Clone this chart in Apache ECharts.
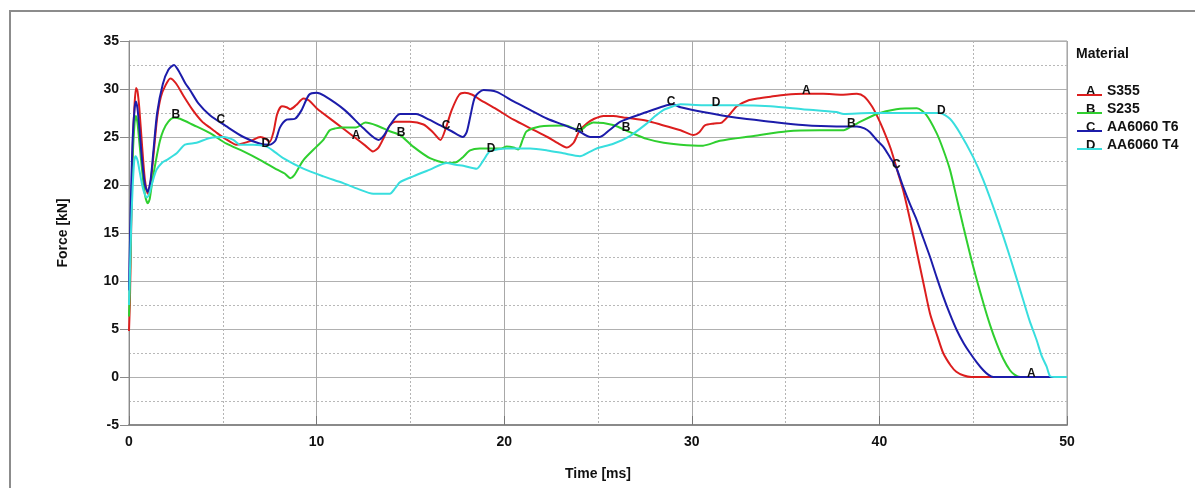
<!DOCTYPE html>
<html>
<head>
<meta charset="utf-8">
<script src="https://cdn.jsdelivr.net/npm/echarts@6/dist/echarts.min.js"></script>
<style>
  html, body { margin:0; padding:0; background:#fff; }
  #wrap { position:relative; width:1195px; height:488px; overflow:hidden; }
  #chart { position:absolute; left:0; top:0; width:1195px; height:488px; }
  #frame { position:absolute; left:9px; top:10px; width:1200px; height:500px;
           border-left:2px solid #8c8c8c; border-top:2px solid #8c8c8c; pointer-events:none; }
</style>
</head>
<body>
<div id="wrap"><div id="chart"></div><div id="frame"></div></div>
<script>
// ---- Data ----
const seriesNames = ['S355', 'S235', 'AA6060 T6', 'AA6060 T4'];
const seriesLetters = ['A', 'B', 'C', 'D'];
const seriesColors = ['#dc1e1e', '#2fcf2f', '#1c1caa', '#38dede'];

// A: S355
const timeA = [0,0.05,0.12,0.2,0.3,0.38,0.45,0.55,0.7,0.85,1.0,1.15,1.3,1.5,1.7,1.95,2.2,2.5,2.9,3.4,3.9,4.3,4.7,5.0,5.4,5.7,6.0,6.5,7.0,7.3,7.5,7.7,7.9,8.15,8.4,8.6,8.9,9.3,9.6,10.0,11.0,12.0,12.6,13.0,13.3,13.6,13.9,14.2,15.0,15.7,16.2,16.6,16.9,17.2,17.6,17.9,18.3,18.7,19.5,20.5,21.5,22.3,23.0,23.35,23.7,24.0,24.4,24.8,25.3,25.8,26.5,27.6,28.5,29.4,30.1,30.4,30.7,31.2,31.6,32.0,32.4,33.0,33.5,34.2,35.0,36.0,37.0,38.0,38.8,39.2,39.6,39.9,40.2,40.6,41.0,41.3,41.7,42.0,42.4,42.7,43.1,43.4,43.8,44.1,44.5,44.9,46,48,50];
const forceA = [4.8,8,16,24,28.5,30.1,29.8,28,24,20.5,19.1,20.2,23,27,29.2,30.4,31.1,30.6,29.3,27.8,26.6,26.0,25.4,25.0,24.5,24.2,24.3,24.6,25.0,24.8,24.5,25.5,27.4,28.2,28.1,27.9,28.3,29.0,28.8,28.0,26.5,25.0,24.1,23.5,23.9,25.0,26.2,26.6,26.6,26.3,25.5,24.7,26.0,27.8,29.4,29.6,29.4,28.9,28.0,26.8,25.8,25.0,24.2,23.9,24.4,25.6,26.4,26.9,27.2,27.2,27.0,26.7,26.2,25.7,25.2,25.5,26.2,26.4,26.5,27.3,28.2,28.8,29.0,29.2,29.4,29.5,29.5,29.4,29.5,29.2,28.2,27.1,25.8,23.8,21.2,19.2,15.8,13.0,9.3,6.6,4.2,2.5,1.2,0.55,0.15,0,0,0,0];

// B: S235
const timeB = [0,0.05,0.12,0.2,0.3,0.37,0.45,0.55,0.7,0.85,1.0,1.1,1.25,1.47,1.65,1.83,2.1,2.4,2.72,3.43,4.32,5.2,6.1,7.0,7.9,8.3,8.6,8.8,9.3,10.0,10.36,10.7,11.0,11.4,12.1,12.6,13.2,13.9,14.45,15.15,16.04,16.94,17.47,17.8,18.18,18.7,19.8,20.13,20.5,20.75,21.0,21.2,21.9,23.3,23.7,24.04,24.4,24.75,25.8,26.7,27.6,28.5,29.4,30.6,31.5,33.3,35.1,36.8,38.1,38.5,38.8,39.85,40.9,42.0,42.5,43.05,43.4,43.76,44.1,44.47,45.0,45.54,45.9,46.25,46.6,46.96,47.2,47.5,48,50];
const forceB = [6.3,10,17,23,26.5,27.2,26.5,24.5,21.5,19,18.1,18.5,20.5,22.9,24.6,25.7,26.6,27.0,26.9,26.25,25.4,24.3,23.5,22.6,21.6,21.2,20.7,21.0,22.6,24.0,24.7,25.7,25.9,26.0,26.0,26.5,26.2,25.6,25.2,24.0,22.8,22.3,22.4,22.9,23.6,23.8,23.8,24.0,23.9,23.7,24.8,25.6,26.1,26.2,25.9,25.7,26.2,26.5,26.25,25.5,24.8,24.4,24.2,24.1,24.6,25.1,25.6,25.7,25.7,26.1,26.4,27.4,27.9,28.0,27.3,25.4,23.7,21.6,18.8,15.7,11.5,7.7,5.4,3.5,1.9,0.7,0.25,0,0,0];

// C: AA6060 T6
const timeC = [0,0.05,0.12,0.2,0.3,0.37,0.45,0.55,0.7,0.85,1.0,1.15,1.3,1.5,1.8,2.1,2.4,2.7,3.0,3.25,3.7,4.3,5.2,6.1,7.0,7.5,7.8,8.05,8.4,8.85,9.2,9.6,10.0,10.4,11.5,12.5,13.3,13.6,13.9,14.45,15.3,16.0,16.6,17.2,17.8,18.0,18.2,18.45,18.9,19.6,20.5,21.4,22.3,23.1,23.9,24.6,25.1,25.6,26.2,27.6,28.5,29.0,29.4,30.6,32.4,34.2,35.9,37.7,38.8,39.2,39.5,39.85,40.2,40.56,40.9,41.27,41.63,41.98,42.35,42.7,43.05,43.4,43.75,44.12,44.5,44.83,45.2,45.54,45.8,46.07,47,48,50];
const forceC = [9,14,20,25,28,28.7,28,26,22.5,20,19.3,20.5,23.5,27.5,30.5,32.0,32.5,31.7,30.6,29.9,28.5,27.3,26.1,25.0,24.3,24.2,24.6,26.0,26.8,26.9,27.8,29.4,29.6,29.3,27.8,25.9,24.7,25.2,26.2,27.4,27.4,26.8,26.2,25.6,25.0,25.5,27.2,29.2,29.9,29.7,28.7,27.8,26.9,26.3,25.7,25.0,25.0,25.7,26.6,27.6,28.2,28.4,28.1,27.6,27.0,26.6,26.25,26.1,26.1,25.9,25.5,24.7,24.0,22.9,21.8,19.8,18.0,16.4,14.4,12.5,10.4,8.4,6.6,4.9,3.5,2.5,1.5,0.7,0.25,0,0,0,0];

// D: AA6060 T4
const timeD = [0,0.05,0.12,0.2,0.28,0.35,0.45,0.55,0.7,0.85,0.96,1.1,1.25,1.47,1.75,2.0,2.54,2.98,3.6,4.32,5.03,5.56,5.92,6.63,7.34,7.8,8.22,9.29,10.36,11.42,12.2,13.02,13.9,14.2,14.45,15.15,16.04,16.94,17.4,17.82,18.53,18.9,19.24,20.13,21.38,22.3,23.15,24.04,24.5,24.93,25.82,26.7,27.6,28.0,28.48,29.0,29.4,30.6,32.4,34.2,35.9,37.7,38.1,39.5,41.3,43.2,43.76,44.3,45.0,45.54,46.25,46.96,47.67,48.0,48.38,48.65,48.91,49.09,49.3,50];
const forceD = [7.5,11,16,20,22.5,23.0,22.6,21.6,20.0,19.0,18.7,19.2,20.3,21.6,22.3,22.6,23.3,24.2,24.4,24.9,25.0,24.7,24.2,24.2,24.0,23.4,22.8,21.7,20.9,20.2,19.6,19.1,19.1,19.7,20.3,20.9,21.6,22.3,22.1,22.0,21.7,22.6,23.5,23.8,23.8,23.6,23.3,23.0,23.4,23.8,24.3,25.1,26.4,27.1,27.8,28.2,28.4,28.3,28.3,28.2,27.9,27.6,27.4,27.5,27.5,27.5,26.9,25.4,22.9,20.5,16.7,12.5,8.0,5.9,3.85,2.2,1.1,0.1,0,0];

// Times at which the curve letters are written
const letterTimesA = [12.1, 24.0, 36.1, 48.1];
const letterTimesB = [2.5, 14.5, 26.5, 38.5];
const letterTimesC = [4.9, 16.9, 28.9, 40.9];
const letterTimesD = [7.3, 19.3, 31.3, 43.3];

const xTicks = { min: 0, max: 50, interval: 10 };
const yTicks = { min: -5, max: 35, interval: 5 };

// ---- Build options ----
const times = [timeA, timeB, timeC, timeD];
const forces = [forceA, forceB, forceC, forceD];
const letterTimes = [letterTimesA, letterTimesB, letterTimesC, letterTimesD];

function interp(t, f, x) {
  for (let i = 1; i < t.length; i++) {
    if (x <= t[i]) {
      const r = (x - t[i-1]) / (t[i] - t[i-1]);
      return f[i-1] + r * (f[i] - f[i-1]);
    }
  }
  return f[f.length - 1];
}

const FONT = '"Liberation Sans", Arial, sans-serif';
const TXT = '#111';

const series = seriesNames.map((name, k) => ({
  name: name,
  type: 'line',
  data: times[k].map((t, i) => [t, forces[k][i]]),
  showSymbol: false,
  smooth: 0.25,
  lineStyle: { color: seriesColors[k], width: 2 },
  itemStyle: { color: seriesColors[k] },
  markPoint: {
    symbol: 'circle',
    symbolSize: 1,
    itemStyle: { color: 'rgba(0,0,0,0)' },
    label: {
      show: true, position: 'inside', offset: [0, -3],
      formatter: seriesLetters[k],
      color: TXT, fontSize: 12, fontWeight: 'bold', fontFamily: FONT
    },
    data: letterTimes[k].map(x => ({ coord: [x, interp(times[k], forces[k], x)] }))
  }
}));

const legendLineY = [95, 113, 131, 149];

const option = {
  animation: false,
  backgroundColor: '#fff',
  textStyle: { fontFamily: FONT },
  title: {
    text: 'Material', left: 1076, top: 47, padding: 0,
    textStyle: { fontSize: 14, fontWeight: 'bold', color: TXT, fontFamily: FONT }
  },
  legend: {
    orient: 'vertical', left: 1077, top: 84, padding: 0,
    icon: 'rect', itemWidth: 25, itemHeight: 2, itemGap: -4,
    selectedMode: false,
    formatter: '{t|{name}}',
    textStyle: {
      fontSize: 14, fontWeight: 'bold', color: TXT, fontFamily: FONT,
      rich: { t: { fontSize: 14, fontWeight: 'bold', color: TXT, fontFamily: FONT,
                   lineHeight: 14, padding: [0, 0, 8, 0] } }
    },
    data: seriesNames
  },
  graphic: seriesLetters.map((L, k) => ({
    type: 'text', left: 1086, top: legendLineY[k] - 10,
    style: { text: L, fill: TXT, font: 'bold 13px ' + FONT }
  })),
  grid: {
    left: 129, top: 41, right: 128, bottom: 63,
    show: true, borderColor: '#9a9a9a', borderWidth: 1
  },
  xAxis: {
    type: 'value', min: xTicks.min, max: xTicks.max, interval: xTicks.interval,
    name: 'Time [ms]', nameLocation: 'middle', nameGap: 42,
    nameTextStyle: { fontSize: 14, fontWeight: 'bold', color: TXT, fontFamily: FONT },
    axisLine: { show: true, onZero: false, lineStyle: { color: '#8a8a8a', width: 2 } },
    axisTick: { show: true, inside: true, length: 9, lineStyle: { color: '#777' } },
    axisLabel: { fontSize: 14, fontWeight: 'bold', color: TXT, margin: 10, fontFamily: FONT },
    splitLine: { show: true, lineStyle: { color: '#a8a8a8', width: 1 } },
    minorTick: { show: false, splitNumber: 2 },
    minorSplitLine: { show: true, lineStyle: { color: '#b4b4b4', type: [2, 2], width: 1 } }
  },
  yAxis: {
    type: 'value', min: yTicks.min, max: yTicks.max, interval: yTicks.interval,
    name: 'Force [kN]', nameLocation: 'middle', nameGap: 59, nameRotate: 90,
    nameTextStyle: { fontSize: 14, fontWeight: 'bold', color: TXT, fontFamily: FONT },
    axisLine: { show: true, onZero: false, lineStyle: { color: '#8a8a8a', width: 1 } },
    axisTick: { show: true, inside: false, length: 9, lineStyle: { color: '#8a8a8a' } },
    axisLabel: { fontSize: 14, fontWeight: 'bold', color: TXT, margin: 10, fontFamily: FONT },
    splitLine: { show: true, lineStyle: { color: '#b0b0b0', width: 1 } },
    minorTick: { show: false, splitNumber: 2 },
    minorSplitLine: { show: true, lineStyle: { color: '#b8b8b8', type: [2, 2], width: 1 } }
  },
  series: series
};

const chart = echarts.init(document.getElementById('chart'), null, { renderer: 'canvas' });
chart.setOption(option);
</script>
</body>
</html>
